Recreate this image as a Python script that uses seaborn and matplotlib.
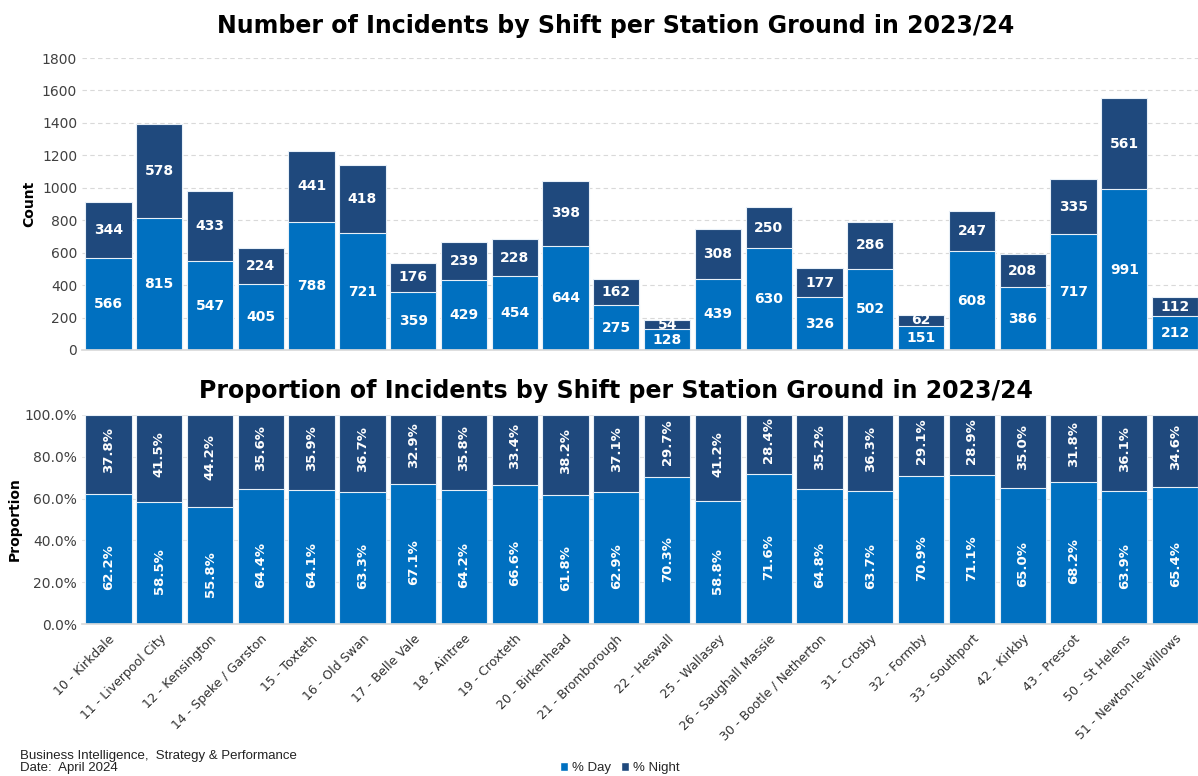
import matplotlib
matplotlib.use("Agg")
import matplotlib.pyplot as plt
import seaborn as sns
import pandas as pd
import numpy as np
from matplotlib.patches import Patch

stations = ["10 - Kirkdale", "11 - Liverpool City", "12 - Kensington", "14 - Speke / Garston",
            "15 - Toxteth", "16 - Old Swan", "17 - Belle Vale", "18 - Aintree", "19 - Croxteth",
            "20 - Birkenhead", "21 - Bromborough", "22 - Heswall", "25 - Wallasey",
            "26 - Saughall Massie", "30 - Bootle / Netherton", "31 - Crosby", "32 - Formby",
            "33 - Southport", "42 - Kirkby", "43 - Prescot", "50 - St Helens",
            "51 - Newton-le-Willows"]
day = [566, 815, 547, 405, 788, 721, 359, 429, 454, 644, 275, 128, 439, 630, 326, 502, 151,
       608, 386, 717, 991, 212]
night = [344, 578, 433, 224, 441, 418, 176, 239, 228, 398, 162, 54, 308, 250, 177, 286, 62,
         247, 208, 335, 561, 112]

DAY_C = "#0070C0"
NIGHT_C = "#1F497D"

sns.set_theme(style="white")
plt.rcParams['font.family'] = ['DejaVu Sans']

df = pd.DataFrame({"station": stations, "day": day, "night": night})
df["total"] = df["day"] + df["night"]
df["pday"] = df["day"] / df["total"] * 100
df["pnight"] = df["night"] / df["total"] * 100
df["ptotal"] = 100.0

fig = plt.figure(figsize=(11.98, 7.76), dpi=100)
ax1 = fig.add_axes([82/1198, 1-350/776, 1116/1198, 292/776])
ax2 = fig.add_axes([82/1198, 1-624/776, 1116/1198, 209/776])

W = 0.91
EDGE = "#e8f0f8"
TX = (616 - 82) / 1116
# Top chart
sns.barplot(data=df, x="station", y="total", color=NIGHT_C, saturation=1, width=W,
            edgecolor=EDGE, linewidth=0.8, ax=ax1)
sns.barplot(data=df, x="station", y="day", color=DAY_C, saturation=1, width=W,
            edgecolor=EDGE, linewidth=0.8, ax=ax1)
night_bars = ax1.containers[0]
day_bars = ax1.containers[1]
for rect, v, d in zip(night_bars, df["night"], df["day"]):
    ax1.text(rect.get_x() + rect.get_width()/2, d + v/2, f"{v}", ha="center", va="center",
             color="white", fontsize=10, fontweight="bold")
for rect, v in zip(day_bars, df["day"]):
    ax1.text(rect.get_x() + rect.get_width()/2, v/2, f"{v}",
             ha="center", va="center", color="white", fontsize=10, fontweight="bold")
ax1.set_ylim(0, 1800)
ax1.set_yticks(range(0, 1801, 200))
ax1.set_xlim(-0.52, 21.45)
ax1.set_xticks([])
ax1.set_xlabel("")
ax1.set_ylabel("Count", fontsize=10, fontweight="bold", labelpad=4, color="black")
ax1.yaxis.grid(True, linestyle=(0, (4, 3)), color="#d9d9d9", linewidth=0.8)
ax1.set_axisbelow(True)
for s in ["top", "right", "left"]:
    ax1.spines[s].set_visible(False)
ax1.spines["bottom"].set_color("#d9d9d9")
ax1.tick_params(axis="y", labelsize=10, colors="#404040", length=0)
ax1.set_title("Number of Incidents by Shift per Station Ground in 2023/24",
              fontsize=17, fontweight="bold", pad=18, color="black", x=TX)

# Bottom chart
sns.barplot(data=df, x="station", y="ptotal", color=NIGHT_C, saturation=1, width=W,
            edgecolor=EDGE, linewidth=0.8, ax=ax2)
sns.barplot(data=df, x="station", y="pday", color=DAY_C, saturation=1, width=W,
            edgecolor=EDGE, linewidth=0.8, ax=ax2)
pn_bars = ax2.containers[0]
pd_bars = ax2.containers[1]
for rect, v, d in zip(pn_bars, df["pnight"], df["pday"]):
    ax2.text(rect.get_x() + rect.get_width()/2, d + v/2 + 2, f"{v:.1f}%", ha="center",
             va="center", color="white", fontsize=9.5, fontweight="bold", rotation=90)
for rect, v in zip(pd_bars, df["pday"]):
    ax2.text(rect.get_x() + rect.get_width()/2, v/2 - 4, f"{v:.1f}%", ha="center",
             va="center", color="white", fontsize=9.5, fontweight="bold", rotation=90)
ax2.set_ylim(0, 100)
ax2.set_yticks(range(0, 101, 20))
ax2.set_yticklabels([f"{t:.1f}%" for t in range(0, 101, 20)])
ax2.set_xlim(-0.52, 21.45)
ax2.set_xlabel("")
ax2.set_ylabel("Proportion", fontsize=10, fontweight="bold", labelpad=2, color="black")
ax2.yaxis.grid(True, color="#e6e6e6", linewidth=0.8)
ax2.set_axisbelow(True)
for s in ["top", "right", "left"]:
    ax2.spines[s].set_visible(False)
ax2.spines["bottom"].set_color("#d9d9d9")
ax2.tick_params(axis="y", labelsize=10, colors="#404040", length=0)
ax2.tick_params(axis="x", labelsize=9, colors="#303030", length=0, pad=6)
plt.setp(ax2.get_xticklabels(), rotation=45, ha="right", rotation_mode="anchor")
ax2.set_title("Proportion of Incidents by Shift per Station Ground in 2023/24",
              fontsize=17, fontweight="bold", pad=12, color="black", x=TX)

fig.text(20/1198, 1-762/776, "Business Intelligence,  Strategy & Performance\nDate:  April 2024",
         fontsize=9.5, family=["Liberation Sans", "DejaVu Sans"], va="center", ha="left",
         linespacing=1.0, color="#222222")
handles = [Patch(facecolor=DAY_C, label="% Day"), Patch(facecolor=NIGHT_C, label="% Night")]
fig.legend(handles=handles, loc="center", bbox_to_anchor=(620/1198, 1-768/776), ncol=2,
           frameon=False, handlelength=0.6, handleheight=0.6, handletextpad=0.3,
           columnspacing=0.8, prop={"family": ["Liberation Sans", "DejaVu Sans"], "size": 9.5})

fig.savefig("out.png", dpi=100)
